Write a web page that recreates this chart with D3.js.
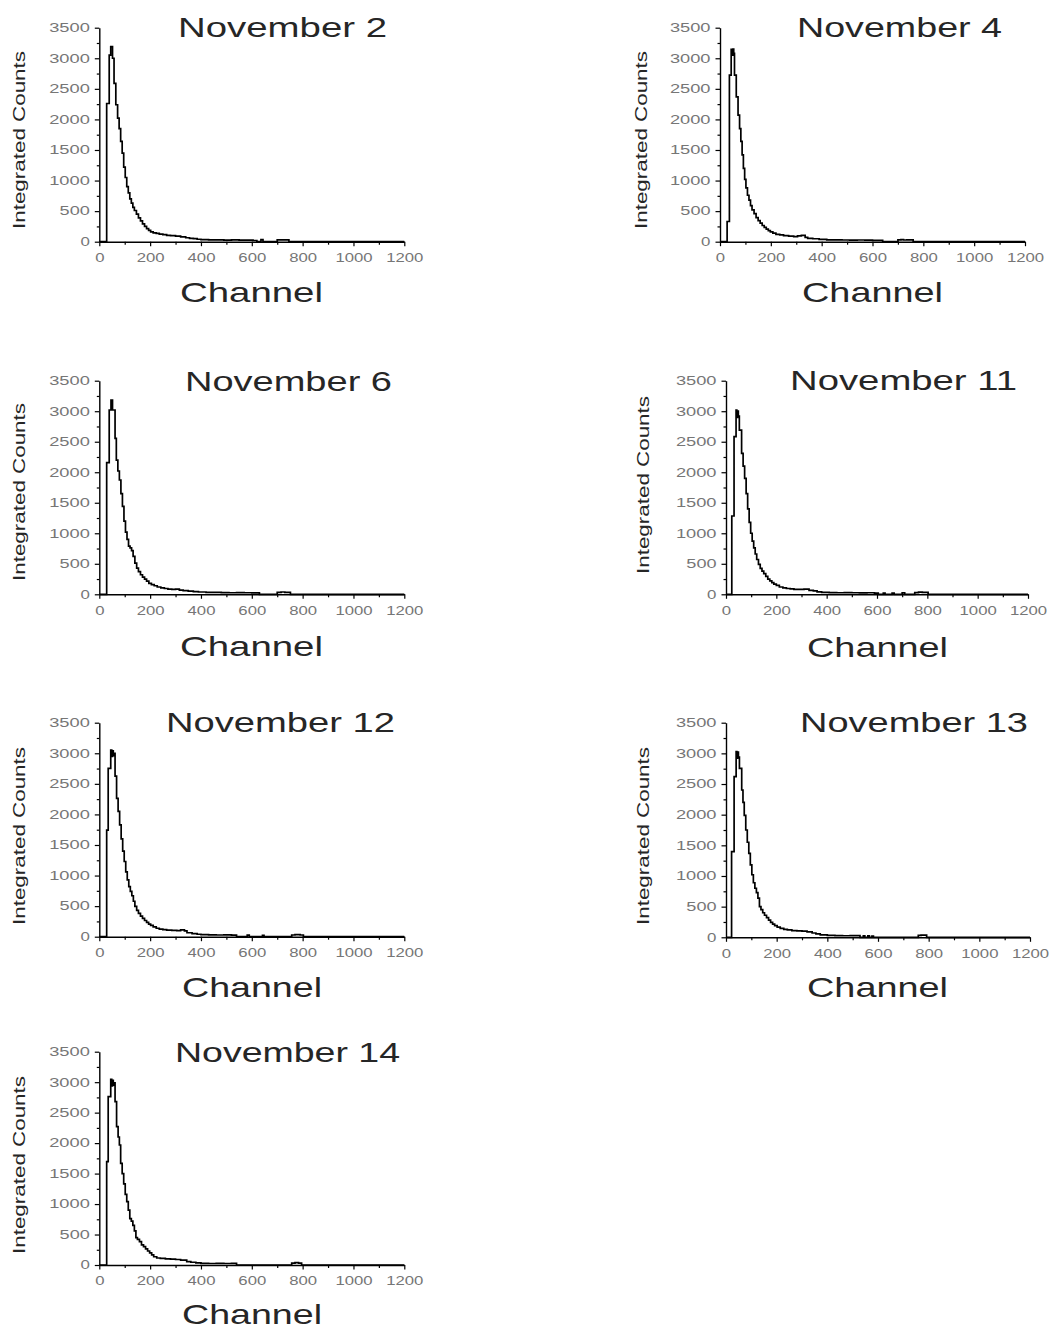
<!DOCTYPE html>
<html>
<head>
<meta charset="utf-8">
<script src="https://cdn.jsdelivr.net/npm/d3@7"></script>
<style>
  body { margin: 0; background: #ffffff; }
  svg text { font-family: "Liberation Sans", Arial, sans-serif; }
</style>
</head>
<body>
<svg id="chart" width="1052" height="1331"></svg>
<script>
// ---- data: integrated counts per channel (step histogram points [channel, counts]) ----
const panelTitles = ["November 2", "November 4", "November 6", "November 11",
                     "November 12", "November 13", "November 14"];
const xTickValues = [0, 200, 400, 600, 800, 1000, 1200];
const yTickValues = [0, 500, 1000, 1500, 2000, 2500, 3000, 3500];
const xMinorTicks = [100, 300, 500, 700, 900, 1100];
const yMinorTicks = [250, 750, 1250, 1750, 2250, 2750, 3250];

const nov2 = [[0,0],[29,2260],[39,3050],[45,3190],[52,3000],[58,2590],[65,2240],[72,2020],
  [78,1850],[84,1640],[90,1450],[96,1220],[102,1050],[108,900],[114,800],[120,700],[126,630],
  [132,560],[138,510],[146,450],[154,390],[162,340],[170,290],[178,250],[186,215],[194,185],
  [202,160],[212,145],[224,135],[236,125],[250,115],[265,105],[280,100],[300,90],[320,80],
  [340,65],[355,55],[370,50],[385,40],[400,35],[430,30],[460,30],[490,25],[520,30],[550,25],
  [580,25],[605,20],[620,0],[636,35],[644,0],[700,30],[746,0],[1200,0]];

const nov4 = [[0,0],[28,330],[37,2725],[44,3145],[48,3050],[51,3150],[54,3080],[57,2725],
  [64,2370],[71,2070],[77,1850],[82,1640],[87,1420],[92,1200],[97,1020],[102,880],[108,760],
  [114,680],[120,590],[126,520],[134,460],[142,395],[150,345],[158,305],[166,265],[174,235],
  [182,205],[190,180],[198,160],[208,140],[220,120],[235,110],[250,100],[270,90],[290,82],
  [305,95],[320,105],[335,70],[345,55],[365,48],[390,38],[420,30],[450,30],[480,28],[510,25],
  [540,28],[570,25],[600,22],[640,0],[700,30],[712,35],[722,28],[735,30],[760,0],[1200,0]];

const nov6 = [[0,0],[29,2157],[39,3020],[46,3183],[52,3020],[62,2555],[67,2200],[73,2020],
  [79,1873],[85,1650],[91,1440],[97,1200],[103,1020],[109,900],[115,790],[121,760],[127,715],
  [133,620],[140,510],[147,430],[154,370],[162,320],[170,280],[178,250],[186,215],[195,180],
  [205,160],[216,140],[228,120],[242,105],[256,95],[270,85],[285,82],[300,85],[315,70],
  [330,60],[350,52],[370,44],[390,38],[420,32],[450,30],[480,28],[510,25],[540,28],[570,25],
  [600,22],[630,0],[700,32],[715,38],[730,30],[752,0],[1200,0]];

const nov11 = [[0,0],[23,1283],[32,2583],[40,3020],[43,2900],[46,3000],[49,2920],[53,2690],
  [62,2310],[68,2100],[74,1900],[80,1650],[86,1400],[92,1180],[98,1000],[104,870],[110,760],
  [116,660],[122,570],[129,490],[136,425],[143,380],[150,340],[158,295],[166,250],[174,220],
  [182,190],[190,168],[200,145],[212,120],[226,105],[240,95],[255,88],[270,82],[290,80],
  [310,85],[330,65],[347,55],[362,40],[380,33],[410,28],[440,25],[470,28],[500,25],[530,22],
  [560,25],[590,20],[605,0],[625,20],[632,0],[660,20],[668,0],[700,22],[710,0],[750,28],
  [765,35],[780,30],[803,0],[1200,0]];

const nov12 = [[0,0],[29,1744],[35,2752],[45,3052],[49,2950],[52,3040],[55,2960],[58,3000],
  [62,2627],[68,2262],[74,2050],[80,1830],[86,1600],[92,1400],[98,1230],[104,1060],[110,930],
  [116,820],[122,740],[128,670],[134,580],[140,495],[147,430],[154,380],[162,335],[170,300],
  [178,265],[186,235],[194,205],[202,185],[212,160],[224,138],[236,125],[250,115],[265,108],
  [285,102],[305,98],[320,110],[335,95],[345,65],[365,50],[385,40],[400,35],[430,30],
  [460,28],[490,30],[520,25],[540,0],[582,25],[590,0],[642,22],[648,0],[757,28],[770,35],
  [790,28],[803,0],[1200,0]];

const nov13 = [[0,0],[22,1397],[32,2620],[40,3027],[43,2920],[46,3020],[49,2940],[53,2755],
  [62,2402],[67,2200],[72,1990],[78,1750],[84,1550],[90,1370],[96,1180],[102,1020],[108,890],
  [114,800],[120,730],[126,640],[132,500],[138,450],[145,400],[152,360],[160,320],[168,280],
  [176,245],[184,215],[192,190],[202,165],[214,145],[228,130],[242,120],[260,110],[280,105],
  [300,100],[320,90],[340,70],[355,55],[372,38],[400,30],[430,28],[460,25],[490,28],[529,0],
  [542,22],[548,0],[560,22],[566,0],[576,20],[582,0],[759,30],[770,35],[792,0],[1200,0]];

const nov14 = [[0,0],[29,1696],[35,2762],[45,3047],[49,2940],[52,3030],[55,2950],[58,2990],
  [62,2680],[68,2270],[74,2100],[79,1969],[84,1668],[90,1500],[96,1330],[102,1160],[108,1040],
  [114,900],[120,760],[126,720],[132,650],[138,560],[144,450],[150,420],[158,385],[166,330],
  [174,300],[182,265],[190,230],[198,200],[206,165],[214,135],[226,115],[240,108],[260,100],
  [280,95],[300,90],[320,80],[344,55],[360,45],[380,35],[400,28],[430,25],[460,28],[490,25],
  [520,28],[540,0],[757,30],[770,38],[784,32],[796,0],[1200,0]];

const panelSeries = [nov2, nov4, nov6, nov11, nov12, nov13, nov14];

// ---- layout of each small panel (pixel frame, title, axis labels) ----
const panelLayout = [
  { x0: 99.3, x1: 404.3, yTop: 27.7,  yBot: 241.7, title: [178, 387, 37],   chan: [180, 323, 302],  ylab: [20, 140] },
  { x0: 720,  x1: 1025,  yTop: 27.7,  yBot: 241.7, title: [797, 1002, 37],  chan: [802, 943, 302],  ylab: [642, 140] },
  { x0: 99.3, x1: 404.3, yTop: 380.7, yBot: 594.3, title: [185, 392, 391],  chan: [180, 323, 656],  ylab: [20, 492] },
  { x0: 726,  x1: 1028,  yTop: 380.7, yBot: 594.3, title: [790, 1017, 390], chan: [807, 948, 657],  ylab: [644, 485] },
  { x0: 99.3, x1: 404.3, yTop: 722.7, yBot: 936.7, title: [166, 395, 732],  chan: [182, 322, 997],  ylab: [20, 836] },
  { x0: 726,  x1: 1030,  yTop: 722.7, yBot: 937.3, title: [800, 1028, 732], chan: [807, 948, 997],  ylab: [644, 836] },
  { x0: 99.3, x1: 404.3, yTop: 1051.7, yBot: 1265, title: [175, 400, 1062], chan: [182, 322, 1324], ylab: [20, 1165] }
];

const svg = d3.select("#chart");
const tickColor = "#767676";
const textColor = "#262626";

panelSeries.forEach((data, i) => {
  const L = panelLayout[i];
  const g = svg.append("g");
  const x = d3.scaleLinear().domain([0, 1200]).range([L.x0, L.x1]);
  const y = d3.scaleLinear().domain([0, 3500]).range([L.yBot, L.yTop]);

  // histogram trace
  const line = d3.line()
    .x(d => x(d[0]))
    .y(d => y(d[1]))
    .curve(d3.curveStepAfter);
  g.append("path")
    .datum(data)
    .attr("d", line)
    .attr("fill", "none")
    .attr("stroke", "#000")
    .attr("stroke-width", 1.7)
    .attr("stroke-linejoin", "miter");

  // minor ticks
  g.append("g")
    .attr("transform", `translate(0,${L.yBot})`)
    .call(d3.axisBottom(x).tickValues(xMinorTicks).tickSize(3).tickSizeOuter(0).tickFormat(""))
    .call(a => a.select(".domain").remove())
    .selectAll("line").attr("stroke", "#000").attr("stroke-width", 1.2);
  g.append("g")
    .attr("transform", `translate(${L.x0},0)`)
    .call(d3.axisLeft(y).tickValues(yMinorTicks).tickSize(2.5).tickSizeOuter(0).tickFormat(""))
    .call(a => a.select(".domain").remove())
    .selectAll("line").attr("stroke", "#000").attr("stroke-width", 1.2);

  // x axis
  const xa = g.append("g")
    .attr("transform", `translate(0,${L.yBot})`)
    .call(d3.axisBottom(x).tickValues(xTickValues).tickSize(4.5).tickSizeOuter(0).tickPadding(7)
      .tickFormat(d3.format("d")));
  xa.select(".domain").attr("stroke", "#000").attr("stroke-width", 1.4);
  xa.selectAll("line").attr("stroke", "#000").attr("stroke-width", 1.2);
  xa.selectAll("text")
    .attr("fill", tickColor)
    .style("font-size", "12.5px")
    .attr("textLength", d => String(d).length * 9.3)
    .attr("lengthAdjust", "spacingAndGlyphs");

  // y axis
  const ya = g.append("g")
    .attr("transform", `translate(${L.x0},0)`)
    .call(d3.axisLeft(y).tickValues(yTickValues).tickSize(4.5).tickSizeOuter(0).tickPadding(5)
      .tickFormat(d3.format("d")));
  ya.select(".domain").attr("stroke", "#000").attr("stroke-width", 1.4);
  ya.selectAll("line").attr("stroke", "#000").attr("stroke-width", 1.2);
  ya.selectAll("text")
    .attr("fill", tickColor)
    .style("font-size", "12px")
    .attr("textLength", d => String(d).length * 10.4 - 1)
    .attr("lengthAdjust", "spacingAndGlyphs");

  // panel title
  g.append("text")
    .attr("x", L.title[0])
    .attr("y", L.title[2])
    .attr("fill", textColor)
    .style("font-size", "28px")
    .attr("textLength", L.title[1] - L.title[0])
    .attr("lengthAdjust", "spacingAndGlyphs")
    .text(panelTitles[i]);

  // x axis title
  g.append("text")
    .attr("x", L.chan[0])
    .attr("y", L.chan[2])
    .attr("fill", textColor)
    .style("font-size", "28px")
    .attr("textLength", L.chan[1] - L.chan[0])
    .attr("lengthAdjust", "spacingAndGlyphs")
    .text("Channel");

  // y axis title
  g.append("text")
    .attr("transform", `translate(${L.ylab[0] + 5},${L.ylab[1]}) rotate(-90)`)
    .attr("text-anchor", "middle")
    .attr("fill", textColor)
    .style("font-size", "16px")
    .attr("textLength", 178)
    .attr("lengthAdjust", "spacingAndGlyphs")
    .text("Integrated Counts");
});
</script>
</body>
</html>
